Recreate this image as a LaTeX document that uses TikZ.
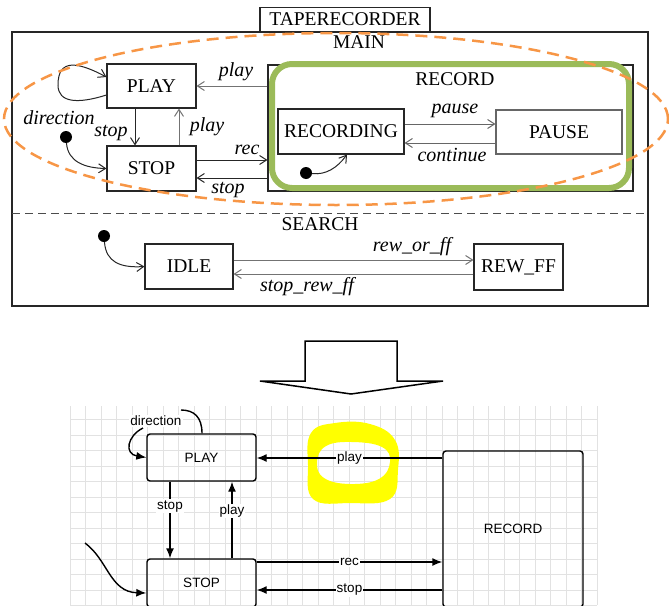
\documentclass[tikz,border=0pt]{standalone}
\usepackage{fontspec}
\setmainfont{Liberation Serif}
\newfontfamily\arialf{Liberation Sans}
\usetikzlibrary{arrows.meta,calc,shapes.geometric}
\definecolor{olivegreen}{HTML}{9BBB59}
\definecolor{orangeline}{HTML}{F79646}
\definecolor{gridgray}{HTML}{E2E2E2}
\definecolor{hiyellow}{HTML}{FFFF00}
\tikzset{
  sbox/.style={draw=black!85, line width=1.1pt, inner sep=0pt, font=\fontsize{19.5}{22}\selectfont},
  tlab/.style={inner sep=0pt, font=\itshape\fontsize{20}{22}\selectfont},
  plainlab/.style={inner sep=0pt, font=\fontsize{19.5}{22}\selectfont},
  tarr/.style={-{Straight Barb[length=7pt,width=9pt]}, line width=1pt},
  initdot/.style={circle, fill=black, inner sep=0pt, minimum size=12pt},
  bbox/.style={draw=black, line width=1.4pt, rounded corners=3pt, inner sep=0pt, font=\arialf\fontsize{13.5}{16}\selectfont},
  blab/.style={fill=white, inner sep=1pt, font=\arialf\fontsize{13.5}{16}\selectfont},
  barr/.style={-{Latex[length=10pt,width=8pt]}, line width=1.4pt},
}
\begin{document}
\begin{tikzpicture}[x=1pt,y=-1pt]
\useasboundingbox (0,0) rectangle (669,605);
\clip (0,0) rectangle (669,605);

% ---------------- top diagram ----------------
\node[sbox, minimum width=170pt, minimum height=24pt] (title) at (345,19.5) {TAPERECORDER};
\node[draw=black!85, line width=1.1pt, minimum width=636pt, minimum height=274pt, inner sep=0pt] (outer) at (330,169) {};
\node[plainlab] (mainlab) at (359,42) {MAIN};
\coordinate (sepl) at (12,213);
\coordinate (sepr) at (648,213);
\draw[black!70, line width=1pt, dash pattern=on 8pt off 5pt] (sepl) -- (sepr);
\node[plainlab] (searchlab) at (320,224) {SEARCH};

% RECORD super-state
\node[draw=black!85, line width=1.1pt, minimum width=365pt, minimum height=126pt, inner sep=0pt] (recbox) at (450.5,128) {};
\node[plainlab] (reclab) at (455,79) {RECORD};

\node[sbox, minimum width=89pt, minimum height=44pt] (play) at (151.5,86) {PLAY};
\node[sbox, minimum width=89pt, minimum height=45pt] (stop) at (151.5,168.5) {STOP};
\node[sbox, minimum width=126pt, minimum height=45pt] (recording) at (341,131.5) {RECORDING};
\node[sbox, draw=black!60, minimum width=126pt, minimum height=44pt] (pause) at (559,132) {PAUSE};

% self loop direction
\draw[tarr, black!85] (play.west |- 0,95) .. controls (78,104) and (58,103) .. (58,85)
   .. controls (58,58) and (78,62) .. (play.west |- 0,77);
\node[tlab] (dirlab) at (59,118) {direction};

% initial to STOP
\node[initdot] (init1) at (66,137) {};
\draw[tarr, black!85] (init1) .. controls (68,162) and (85,168) .. (stop.west);

\draw[tarr, black!85] (play.south -| 135,0) -- (stop.north -| 135,0);
\node[tlab] (stoplab1) at (111,133) {stop};
\draw[tarr, black!55] (stop.north -| 179,0) -- (play.south -| 179,0);
\node[tlab] (playlab1) at (207,127) {play};

\draw[tarr, black!55] (recbox.west |- 0,86) -- (play.east |- 0,86);
\node[tlab] (playlab2) at (236,72) {play};
\draw[tarr, black!85] (stop.east |- 0,160) -- (recbox.west |- 0,160);
\node[tlab] (reclab2) at (247,150) {rec};
\draw[tarr, black!85] (recbox.west |- 0,178) -- (stop.east |- 0,178);
\node[tlab] (stoplab2) at (228,190) {stop};

\draw[tarr, black!60] (recording.east |- 0,124) -- (pause.west |- 0,124);
\node[tlab] (pauselab) at (455,111) {pause};
\draw[tarr, black!60] (pause.west |- 0,143) -- (recording.east |- 0,143);
\node[tlab] (contlab) at (452,155) {continue};

\node[initdot] (init2) at (306,173) {};
\draw[tarr, black!85] (init2) .. controls (326,175) and (337,168) .. (recording.south -| 347,0);

% SEARCH
\node[sbox, minimum width=88pt, minimum height=45pt] (idle) at (189,266.5) {IDLE};
\node[sbox, minimum width=89pt, minimum height=46pt] (rewff) at (518.5,267) {REW\_FF};
\node[initdot] (init3) at (104,236) {};
\draw[tarr, black!85] (init3) .. controls (106,262) and (120,268) .. (idle.west);
\draw[tarr, black!55] (idle.east |- 0,260) -- (rewff.west |- 0,260);
\node[tlab] (rwlab) at (412,247) {rew\_or\_ff};
\draw[tarr, black!55] (rewff.west |- 0,274) -- (idle.east |- 0,274);
\node[tlab] (srwlab) at (307,287) {stop\_rew\_ff};

% overlays
\draw[olivegreen, line width=6pt, rounded corners=20pt] (272,64) rectangle (629,188);
\node[draw=orangeline, line width=2.5pt, dash pattern=on 12pt off 7pt, ellipse, minimum width=664pt, minimum height=172pt, inner sep=0pt] (orangeell) at (336,119) {};

% ---------------- big arrow ----------------
\draw[black, line width=1.5pt, line join=miter] (305,341) -- (397,341) -- (397,381) -- (443,381) -- (351,394) -- (260,381) -- (305,381) -- cycle;

% ---------------- bottom diagram ----------------
\foreach \i in {0,...,34} {
  \draw[gridgray, line width=0.8pt] (70+15.5*\i,406) -- (70+15.5*\i,605);
}
\foreach \j in {1,...,13} {
  \draw[gridgray, line width=0.8pt] (70,404+15.5*\j) -- (597,404+15.5*\j);
}

\fill[hiyellow, even odd rule]
  plot[smooth cycle, tension=0.7] coordinates {(308,465) (311,433) (335,423) (370,424) (395,440) (398,470) (390,499) (350,503) (313,499)}
  plot[smooth cycle, tension=0.7] coordinates {(317,462) (326,446) (352,442) (382,447) (390,462) (379,479) (350,484) (324,478)};

\node[bbox, minimum width=109pt, minimum height=47pt] (play2) at (201.5,457.5) {PLAY};
\node[bbox, minimum width=109pt, minimum height=48pt] (stop2) at (201.5,583) {STOP};
\node[bbox, minimum width=140pt, minimum height=156pt] (record2) at (513,529) {RECORD};

\draw[line width=1.4pt] (play2.north -| 202,0) .. controls (202,417) and (194,410) .. (181,410);
\draw[barr] (143,428) .. controls (127,436) and (124,454) .. (play2.west);
\node[blab] (dirlab2) at (156,421) {direction};

\draw[barr] (play2.south -| 170,0) -- node[blab, pos=0.32] (stoplab3) {stop} (stop2.north -| 170,0);
\draw[barr] (stop2.north -| 232,0) -- node[blab, pos=0.62] (playlab3) {play} (play2.south -| 232,0);

\draw[barr] (record2.west |- 0,458) -- node[blab] (playlab4) {play} (play2.east |- 0,458);
\draw[barr] (stop2.east |- 0,562) -- node[blab] (reclab3) {rec} (record2.west |- 0,562);
\draw[barr] (record2.west |- 0,590) -- node[blab] (stoplab4) {stop} (stop2.east |- 0,590);

\coordinate (initfree) at (85,543);
\draw[barr] (initfree) .. controls (108,560) and (110,592) .. (stop2.west |- 0,593);
\end{tikzpicture}
\end{document}
